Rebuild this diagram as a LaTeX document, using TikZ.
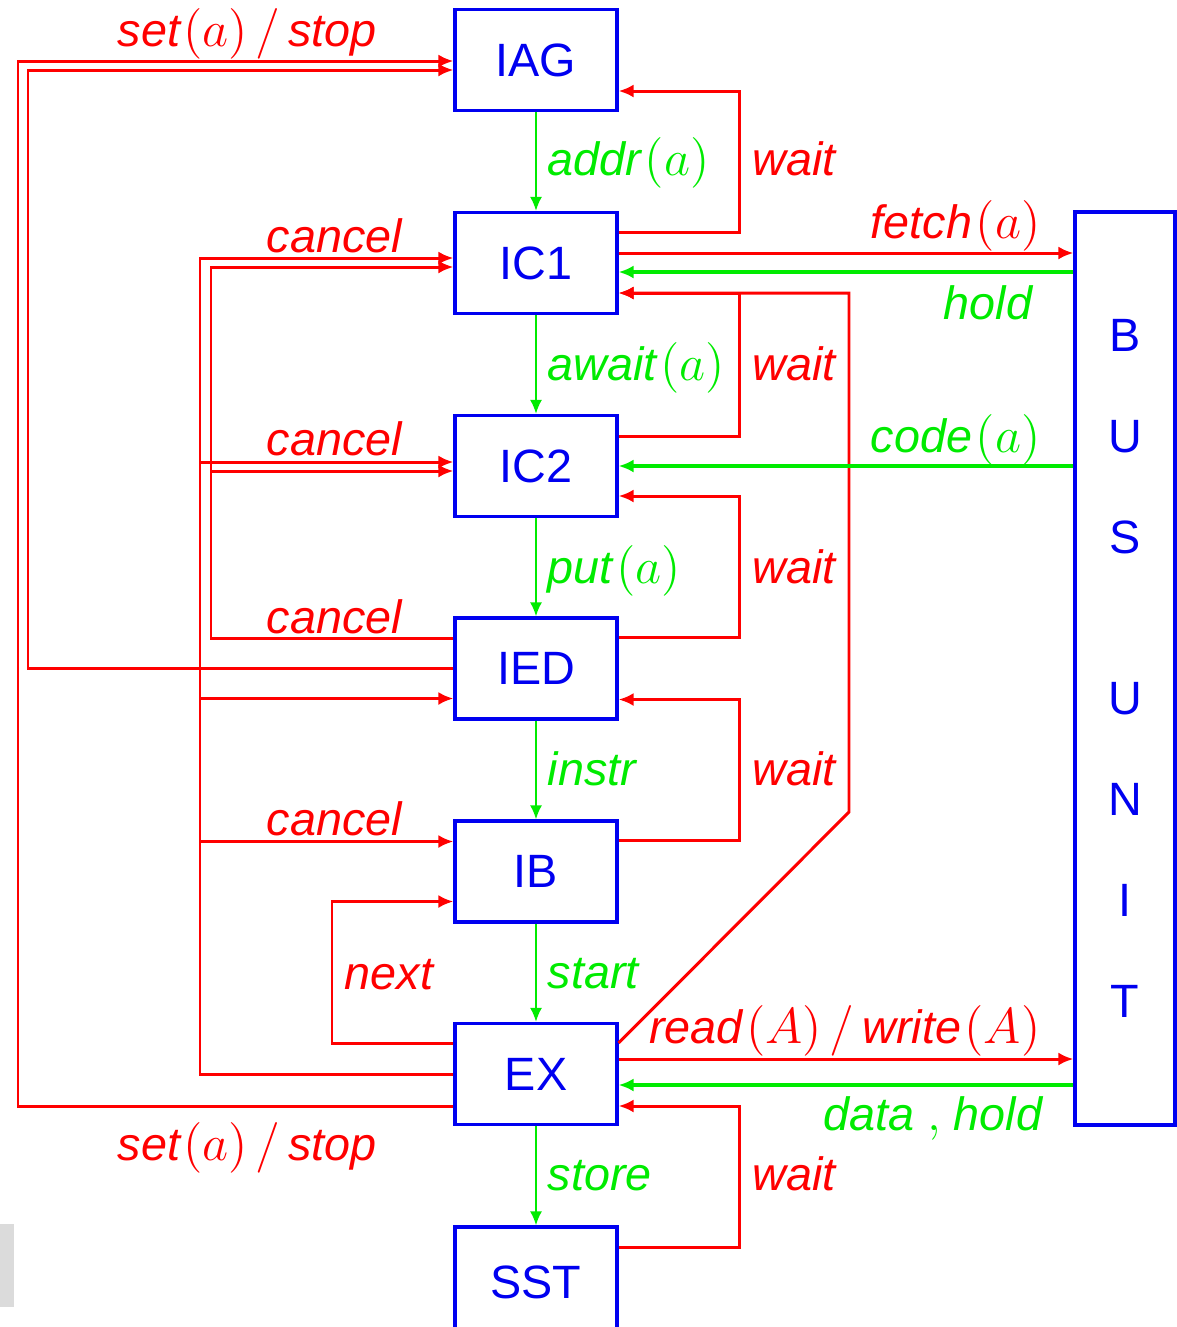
\documentclass[tikz,border=0pt]{standalone}
\usepackage[no-math]{fontspec}
\setmainfont{Liberation Sans}
\usepackage{tikz}
\usetikzlibrary{arrows.meta}

\definecolor{ctrlred}{RGB}{255,0,0}
\definecolor{flowgreen}{RGB}{0,235,0}
\definecolor{unitblue}{RGB}{0,0,240}

\newcommand{\tsp}{\kern1.0pt}
\newcommand{\ssp}{\kern2.2pt}

\tikzset{
  unit/.style={draw=unitblue, line width=0.9pt, minimum width=1.62cm, minimum height=1.01cm,
    inner sep=0pt, text=unitblue, font=\fontsize{13.3}{16}\selectfont},
  ctrl/.style={draw=ctrlred, line width=0.85pt, -{Latex[length=1.5mm,width=1.3mm]}},
  flow/.style={draw=flowgreen, line width=0.6pt, -{Latex[length=1.4mm,width=1.2mm]}},
  flowb/.style={draw=flowgreen, line width=0.9pt, -{Latex[length=1.5mm,width=1.3mm]}},
  rlbl/.style={text=ctrlred, inner sep=0pt, font=\fontsize{13.3}{16}\selectfont\itshape},
  glbl/.style={text=flowgreen, inner sep=0pt, font=\fontsize{13.3}{16}\selectfont\itshape},
}

\begin{document}
\begin{tikzpicture}
  \useasboundingbox (0,0) rectangle (11.77,-13.27);
  \clip (0,0) rectangle (11.77,-13.27);
  \fill[black!14] (0,-12.24) rectangle (0.14,-13.07);

  % pipeline stages
  \node[unit] at (5.36,-0.60)  (iag) {IAG};
  \node[unit] at (5.36,-2.63)  (ic1) {IC1};
  \node[unit] at (5.36,-4.66)  (ic2) {IC2};
  \node[unit] at (5.36,-6.685) (ied) {IED};
  \node[unit] at (5.36,-8.715) (ib)  {IB};
  \node[unit] at (5.36,-10.74) (ex)  {EX};
  \node[unit, minimum height=1.1cm] at (5.36,-12.82) (sst) {SST};
  \node[unit, minimum width=1.00cm, minimum height=9.13cm, align=center,
        font=\fontsize{13.3}{28.7}\selectfont] at (11.25,-6.685) (bus)
        {B\\U\\S\\[6mm]U\\N\\I\\T};

  % turning points of the long lines
  \coordinate (exc)    at (2.00,0);
  \coordinate (iedc)   at (2.11,0);
  \coordinate (iedset) at (0.28,0);
  \coordinate (exset)  at (0.18,0);
  \coordinate (nextc)  at (3.32,0);
  \coordinate (bend)   at (8.49,-8.12);

  % data flow down the pipe
  \draw[flow] (iag) -- (ic1);
  \draw[flow] (ic1) -- (ic2);
  \draw[flow] (ic2) -- (ied);
  \draw[flow] (ied) -- (ib);
  \draw[flow] (ib) -- (ex);
  \draw[flow] (ex) -- (sst);

  % wait back to the stage above
  \draw[ctrl] ([yshift=3.1mm]ic1.east) -- ++(1.21,0) |- ([yshift=-3.1mm]iag.east);
  \draw[ctrl] ([yshift=3.0mm]ic2.east) -- ++(1.21,0) |- ([yshift=-3.0mm]ic1.east);
  \draw[ctrl] ([yshift=3.1mm]ied.east) -- ++(1.21,0) |- ([yshift=-3.0mm]ic2.east);
  \draw[ctrl] ([yshift=3.1mm]ib.east)  -- ++(1.21,0) |- ([yshift=-3.1mm]ied.east);
  \draw[ctrl] ([yshift=3.5mm]sst.east) -- ++(1.21,0) |- ([yshift=-3.2mm]ex.east);
  \draw[ctrl] ([yshift=3.1mm]ex.east) -- (bend) |- ([yshift=-3.0mm]ic1.east);

  % bus traffic
  \draw[ctrl]  ([yshift=1.0mm]ic1.east) -- ([yshift=1.0mm]ic1.east -| bus.west);
  \draw[flowb] ([yshift=-0.9mm]ic1.east -| bus.west) -- ([yshift=-0.9mm]ic1.east);
  \draw[flowb] (ic2.east -| bus.west) -- (ic2.east);
  \draw[ctrl]  ([yshift=1.5mm]ex.east) -- ([yshift=1.5mm]ex.east -| bus.west);
  \draw[flowb] ([yshift=-1.1mm]ex.east -| bus.west) -- ([yshift=-1.1mm]ex.east);

  % cancel from EX
  \draw[ctrl] (ex.west) -- (ex.west -| exc) |- ([yshift=0.5mm]ic1.west);
  \draw[ctrl] ([yshift=0.4mm]ic2.west -| exc) -- ([yshift=0.4mm]ic2.west);
  \draw[ctrl] ([yshift=-3.0mm]ied.west -| exc) -- ([yshift=-3.0mm]ied.west);
  \draw[ctrl] ([yshift=3.0mm]ib.west -| exc) -- ([yshift=3.0mm]ib.west);

  % cancel from IED
  \draw[ctrl] ([yshift=3.0mm]ied.west) -- ([yshift=3.0mm]ied.west -| iedc) |- ([yshift=-0.4mm]ic1.west);
  \draw[ctrl] ([yshift=-0.5mm]ic2.west -| iedc) -- ([yshift=-0.5mm]ic2.west);

  % set / stop and next
  \draw[ctrl] (ied.west) -- (ied.west -| iedset) |- ([yshift=-1.0mm]iag.west);
  \draw[ctrl] ([yshift=-3.2mm]ex.west) -- ([yshift=-3.2mm]ex.west -| exset) |- ([yshift=-0.1mm]iag.west);
  \draw[ctrl] ([yshift=3.1mm]ex.west) -- ([yshift=3.1mm]ex.west -| nextc) |- ([yshift=-3.0mm]ib.west);

  % labels
  \node[glbl, anchor=base west] at (5.47,-1.75)  (laddr)  {addr\tsp$(a)$};
  \node[glbl, anchor=base west] at (5.47,-3.80)  (lawait) {await\tsp$(a)$};
  \node[glbl, anchor=base west] at (5.47,-5.83)  (lput)   {put\tsp$(a)$};
  \node[glbl, anchor=base west] at (5.47,-7.85)  (linstr) {instr};
  \node[glbl, anchor=base west] at (5.47,-9.88)  (lstart) {start};
  \node[glbl, anchor=base west] at (5.47,-11.90) (lstore) {store};

  \node[rlbl, anchor=base west] at (7.52,-1.75)  (lwaita) {wait};
  \node[rlbl, anchor=base west] at (7.52,-3.80)  (lwaitb) {wait};
  \node[rlbl, anchor=base west] at (7.52,-5.83)  (lwaitc) {wait};
  \node[rlbl, anchor=base west] at (7.52,-7.85)  (lwaitd) {wait};
  \node[rlbl, anchor=base west] at (7.52,-11.90) (lwaite) {wait};

  \node[rlbl, anchor=base east] at (10.41,-2.38)  (lfetch) {fetch\tsp$(a)$};
  \node[glbl, anchor=base east] at (10.33,-3.19)  (lhold)  {hold};
  \node[glbl, anchor=base east] at (10.41,-4.52)  (lcode)  {code\tsp$(a)$};
  \node[rlbl, anchor=base east] at (10.41,-10.43) (lrw)    {read\tsp$(A)$\ssp$/$\ssp write\tsp$(A)$};
  \node[glbl, anchor=base east] at (10.43,-11.30) (ldata)  {data\;$,$\;hold};

  \node[rlbl, anchor=base west] at (2.66,-2.52) (lcana) {cancel};
  \node[rlbl, anchor=base west] at (2.66,-4.55) (lcanb) {cancel};
  \node[rlbl, anchor=base west] at (2.66,-6.33) (lcanc) {cancel};
  \node[rlbl, anchor=base west] at (2.66,-8.35) (lcand) {cancel};
  \node[rlbl, anchor=base west] at (3.44,-9.89) (lnext) {next};

  \node[rlbl, anchor=base west] at (1.17,-0.46)  (lseta) {set\tsp$(a)$\ssp$/$\ssp stop};
  \node[rlbl, anchor=base west] at (1.17,-11.60) (lsetb) {set\tsp$(a)$\ssp$/$\ssp stop};
\end{tikzpicture}
\end{document}
